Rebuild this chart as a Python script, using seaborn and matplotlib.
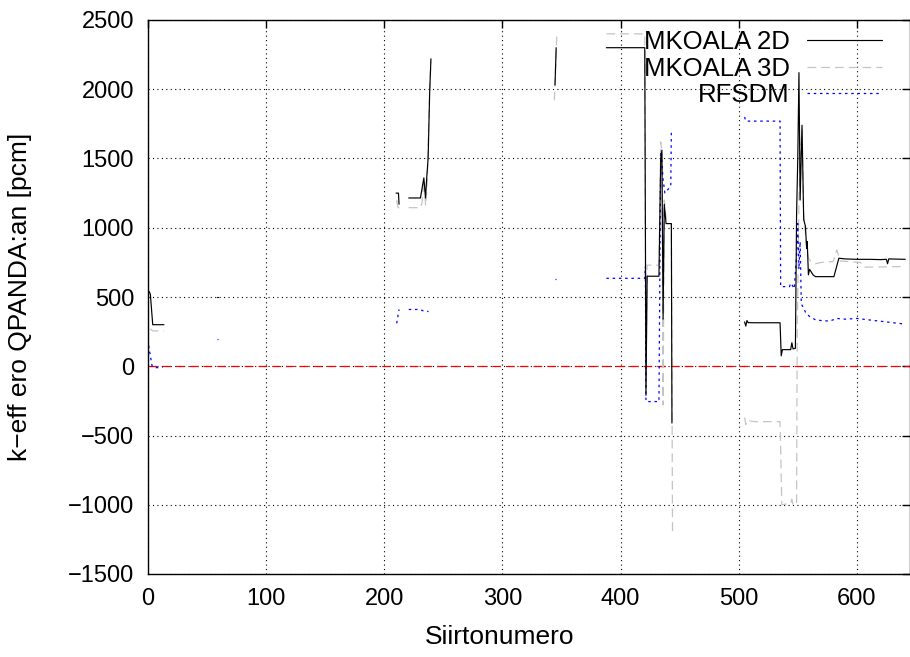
import numpy as np
import pandas as pd
import matplotlib
matplotlib.use("Agg")
import matplotlib.pyplot as plt
from matplotlib.lines import Line2D
import seaborn as sns

# ---------------- data ----------------
series_names = ["MKOALA 2D", "MKOALA 3D", "RFSDM"]

# MKOALA 2D (black, solid) - list of separate segments
mk2d_x = [
    [1, 2, 4, 13.5],
    [58.5, 59.5],
    [210, 212, 212.5],
    [220.7, 230.6, 233.5, 234.9, 236, 237.1, 238.5, 239.5],
    [344.5, 345.5],
    [388, 420.5, 421.5, 422.5, 432.5, 434, 435, 436, 437, 438.5, 443, 443.5],
    [505, 506, 507, 508, 513, 535, 536, 537, 544, 545, 546, 548, 549, 550,
     551, 552, 553.6, 555, 556.5, 557.5, 558, 559, 560, 563, 565, 580.6,
     584.8, 590, 600, 610, 620, 625, 626, 627, 641],
]
mk2d_y = [
    [540, 520, 300, 300],
    [500, 500],
    [1250, 1250, 1170],
    [1215, 1215, 1360, 1215, 1370, 1500, 2000, 2220],
    [2030, 2300],
    [2300, 2300, -210, 650, 650, 1500, 1560, 340, 1170, 1030, 1030, -410],
    [320, 290, 330, 315, 314, 314, 75, 120, 120, 170, 125, 130, 1100, 1500,
     2120, 1200, 1740, 1060, 1010, 850, 900, 660, 700, 659, 647, 647,
     780, 775, 772, 772, 770, 772, 740, 775, 772],
]

# MKOALA 3D (light grey, dashed)
mk3d_x = [
    [2, 4, 13.5],
    [210.5, 211.5, 212.5],
    [220.7, 230.6, 232, 233.5, 235, 236.5, 238, 239.5],
    [344, 346],
    [388, 420.5, 421, 421.5, 422.5, 432.5, 434, 435, 436, 437, 439, 443, 444],
    [505, 506, 507, 513, 535, 536.5, 544, 545, 546, 548, 549, 549.5, 551,
     552.5, 553.6, 555, 557, 559, 561, 565, 570, 580, 583, 586, 603, 606, 640],
]
mk3d_y = [
    [270, 255, 255],
    [1200, 1150, 1140],
    [1145, 1145, 1180, 1340, 1160, 1360, 1900, 2200],
    [1920, 2380],
    [2400, 2400, 1000, -150, 730, 730, 1620, 1550, -280, 1200, 1030, 1030, -1220],
    [-370, -420, -390, -400, -400, -1000, -990, -960, -1000, -1000, -990, 200,
     1200, 1600, 1700, 1100, 900, 780, 760, 740, 750, 756, 840, 760, 750, 715, 720],
]

# RFSDM (blue, dotted)
rfsdm_x = [
    [0.5, 1.5, 2.5, 3.5, 6, 9, 12.5],
    [58.5, 59.5],
    [210.5, 211.5, 212.5],
    [220.7, 230, 233, 237.5],
    [344.5, 345.5],
    [388, 420.5, 421, 421.5, 432.5, 434, 435, 436, 437.5, 442.5, 443, 443.5],
    [505, 506, 535, 535.5, 543, 544, 545, 547, 549, 550, 551, 552, 553, 555,
     557, 560, 565, 570, 577, 583, 590, 600, 610, 620, 630, 640],
]
rfsdm_y = [
    [150, 100, 50, 0, -10, -10, -5],
    [195, 195],
    [310, 360, 410],
    [410, 410, 400, 395],
    [630, 630],
    [635, 635, 720, -255, -255, 1550, 1470, 1350, 1250, 1300, 1700, 1700],
    [1800, 1770, 1770, 575, 575, 600, 590, 560, 800, 1030, 700, 900, 450, 420,
     380, 360, 335, 330, 326, 345, 340, 345, 335, 325, 315, 305],
]

zero_level = 0
x_ticks = [0, 100, 200, 300, 400, 500, 600]
y_ticks = [-1500, -1000, -500, 0, 500, 1000, 1500, 2000, 2500]

x_label = "Siirtonumero"
y_label = "k\u2212eff ero QPANDA:an [pcm]"


def to_frame(name, xs, ys):
    rows = []
    for i, (sx, sy) in enumerate(zip(xs, ys)):
        for a, b in zip(sx, sy):
            rows.append({"series": name, "seg": i, "x": a, "y": b})
    return pd.DataFrame(rows)


df2d = to_frame(series_names[0], mk2d_x, mk2d_y)
df3d = to_frame(series_names[1], mk3d_x, mk3d_y)
dfrf = to_frame(series_names[2], rfsdm_x, rfsdm_y)

# ---------------- style ----------------
sns.set_theme(style="white")
plt.rcParams["font.family"] = ["Liberation Sans", "DejaVu Sans"]
plt.rcParams["text.color"] = "black"
plt.rcParams["axes.labelcolor"] = "black"
plt.rcParams["xtick.color"] = "black"
plt.rcParams["ytick.color"] = "black"

fig = plt.figure(figsize=(9.1, 6.57), dpi=100)
ax = fig.add_axes([148 / 910, 1 - 574 / 657, (910 - 148) / 910, (574 - 20) / 657])

styles = {
    series_names[0]: dict(color="black", linestyle="-", linewidth=0.85),
    series_names[1]: dict(color="#c4c4c4", linestyle=(0, (7, 4)), linewidth=0.9),
    series_names[2]: dict(color="#0000ff", linestyle=(0, (2, 3)), linewidth=0.9),
}

ax.axhline(zero_level, color="red", linestyle=(0, (7, 4)), linewidth=0.9, zorder=1)

for name, d in [(series_names[1], df3d), (series_names[2], dfrf), (series_names[0], df2d)]:
    sns.lineplot(data=d, x="x", y="y", units="seg", estimator=None, sort=False,
                 ax=ax, legend=False, **styles[name])

ax.set_xlim(0, 645)
ax.set_ylim(-1500, 2500)
ax.set_xticks(x_ticks)
ax.set_yticks(y_ticks)
ax.set_axisbelow(True)
ax.grid(True, color="black", linestyle=(0, (1, 3)), linewidth=0.8)

for sp in ax.spines.values():
    sp.set_color("black")
    sp.set_linewidth(1.0)

ax.tick_params(direction="in", top=True, right=True, length=6, width=1,
               labelsize=17, pad=10, colors="black")

ax.set_xlabel(x_label, fontsize=19, color="black")
ax.set_ylabel(y_label, fontsize=19, color="black")
ax.xaxis.set_label_coords((500 - 148) / 762, -0.092)
ax.yaxis.set_label_coords(-0.152, 0.5)

handles = [Line2D([0], [0], **styles[n]) for n in series_names]
leg = ax.legend(handles, series_names, loc="upper right",
                bbox_to_anchor=(882 / 910, 1 - 30 / 657), bbox_transform=fig.transFigure,
                frameon=False, borderpad=0, borderaxespad=0, markerfirst=False,
                handlelength=2.9, handletextpad=0.7, labelspacing=0.1, fontsize=18.5)
for t in leg.get_texts():
    t.set_color("black")

fig.savefig("out.png", dpi=100)
